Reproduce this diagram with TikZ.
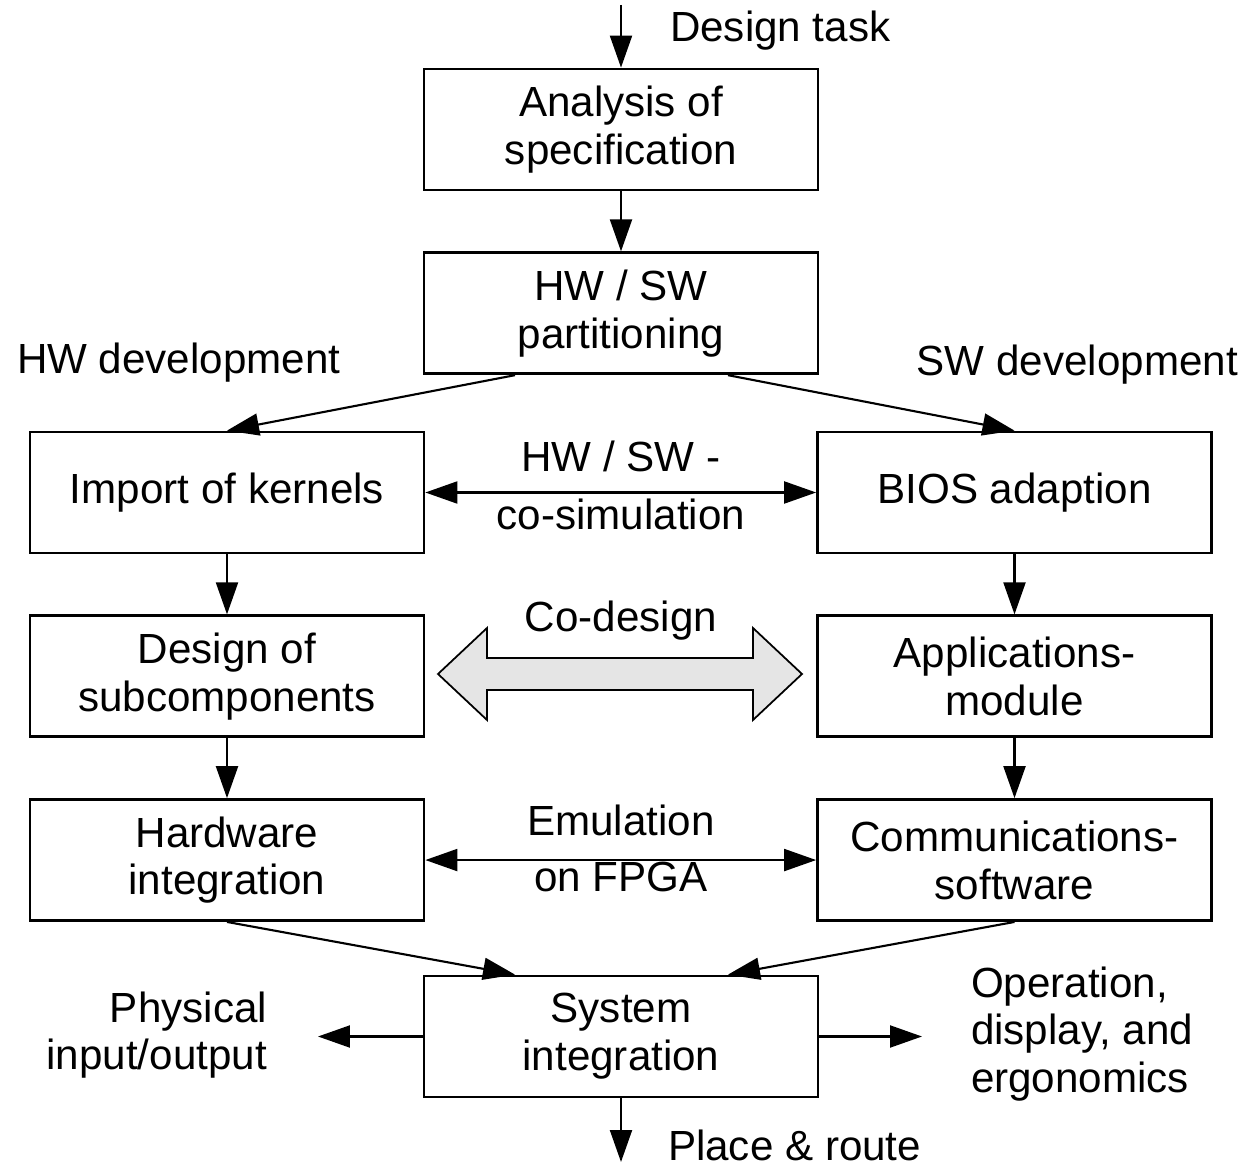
\documentclass[tikz,border=0pt]{standalone}
\usepackage{fontspec}
\setmainfont{Liberation Sans}
\usepackage{tikz}
\usetikzlibrary{positioning,arrows.meta}
\tikzset{
every path/.style={line width=1.2pt}
, every node/.style={font=\fontsize{24}{27.2}\selectfont}
, flow/.style={-{Triangle[length=0.64cm,width=0.44cm]}}
, both/.style={{Triangle[length=0.64cm,width=0.44cm]}-{Triangle[length=0.64cm,width=0.44cm]}}
, stagebox/.style={draw,line width=1.6pt,inner sep=0,minimum width=7.88cm,minimum height=2.42cm,align=center}
, lbl/.style={inner sep=0,align=center}
, fatarrow/.style={draw,line width=1pt,fill=black!10}}

\begin{document}
\begin{tikzpicture}[x=0.02cm,y=-0.02cm, node distance=1.2cm]
\useasboundingbox (0,0) rectangle (1258,1168);
% middle column
\node[stagebox] at (621,129.5) (spec) {Analysis of\\specification};
\node[stagebox, below=of spec] (part) {HW / SW\\partitioning};
% HW side
\node[stagebox] at (227,492.5) (imp) {Import of kernels};
\node[stagebox, below=of imp] (sub) {Design of\\subcomponents};
\node[stagebox, below=of sub] (hwi) {Hardware\\integration};
% SW side
\node[stagebox] at (1014.5,492.5) (bios) {BIOS adaption};
\node[stagebox, below=of bios] (app) {Applications-\\module};
\node[stagebox, below=of app] (comm) {Communications-\\software};
\node[stagebox] at (621,1036.5) (sys) {System\\integration};

% labels
\node[lbl, anchor=west] at (669,31) (task) {Design task};
\node[lbl, anchor=west] at (16,363) (hwdev) {HW development};
\node[lbl, anchor=east] at (1239,365) (swdev) {SW development};
\node[lbl] at (621,456) (cosima) {HW / SW -};
\node[lbl] at (621,514) (cosimb) {co-simulation};
\node[lbl] at (621,621) (codes) {Co-design};
\node[lbl] at (621,820) (emua) {Emulation};
\node[lbl] at (621,877) (emub) {on FPGA};
\node[lbl, anchor=east, align=right] at (268,1035) (pio) {Physical\\input/output};
\node[lbl, anchor=west, align=left] at (970,1034) (oper) {Operation,\\display, and\\ergonomics};
\node[lbl, anchor=west] at (667,1145) (place) {Place \& route};

\coordinate (taskin) at (621,5);
\coordinate (pioend) at (318,1036.5);
\coordinate (operend) at (922,1036.5);
\coordinate (placeend) at (621,1162);

% connectors
\draw [flow] (taskin) -- (spec);
\draw [flow] (spec) -- (part);
\draw [flow] ([xshift=-2.12cm]part.south) -- (imp.north);
\draw [flow] ([xshift=2.14cm]part.south) -- (bios.north);
\draw [both] (imp) -- (bios);
\draw [flow] (imp) -- (sub);
\draw [flow] (bios) -- (app);
\draw [flow] (sub) -- (hwi);
\draw [flow] (app) -- (comm);
\draw [both] (hwi) -- (comm);
\draw [flow] (hwi.south) -- ([xshift=-2.12cm]sys.north);
\draw [flow] (comm.south) -- ([xshift=2.14cm]sys.north);
\draw [flow] (sys.west) -- (pioend);
\draw [flow] (sys.east) -- (operend);
\draw [flow] (sys) -- (placeend);

% co-design arrow
\draw [fatarrow] (438,674) -- (487,628) -- (487,658) -- (753,658) -- (753,628) -- (802,674)
  -- (753,720) -- (753,690) -- (487,690) -- (487,720) -- cycle;
\end{tikzpicture}
\end{document}
